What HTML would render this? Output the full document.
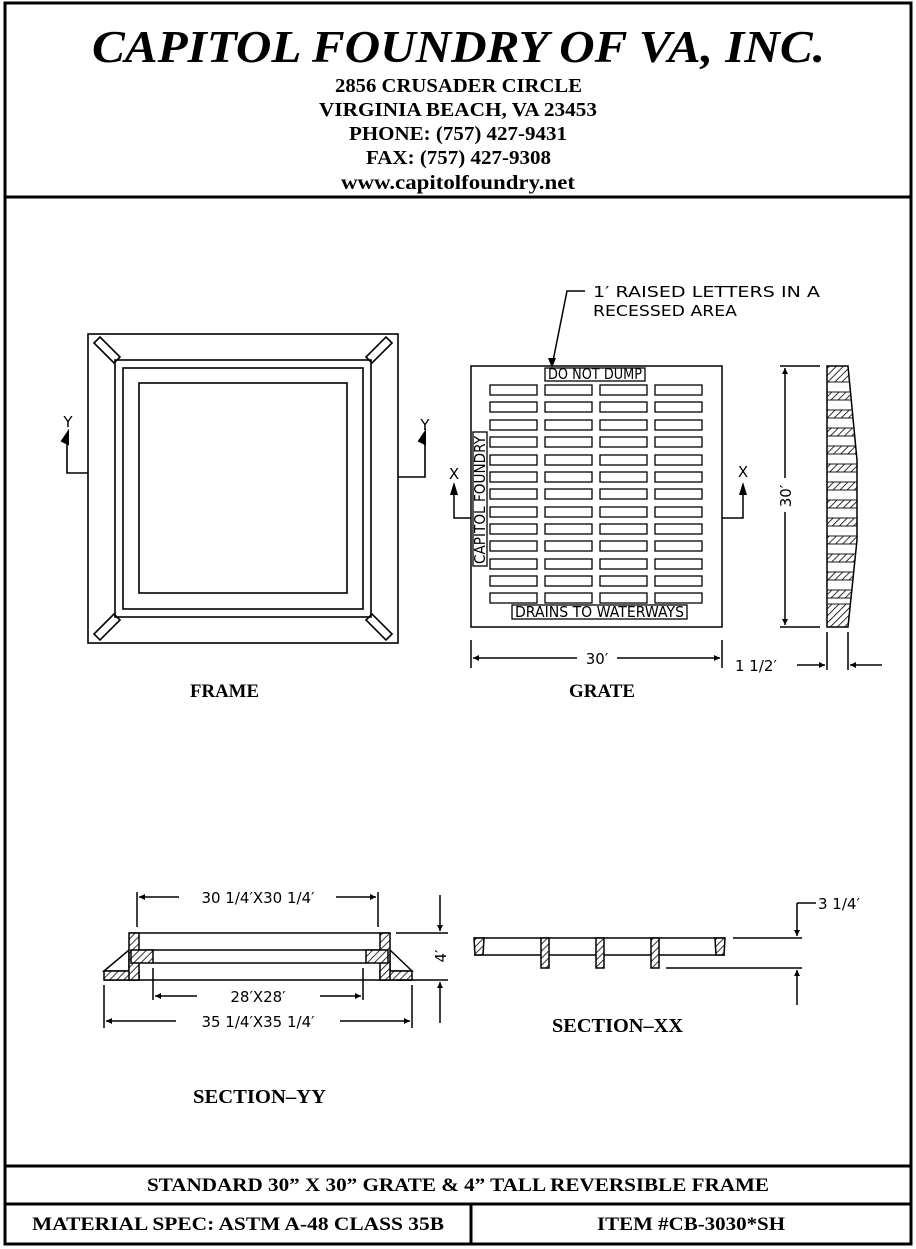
<!DOCTYPE html>
<html><head><meta charset="utf-8"><style>
html,body{margin:0;padding:0;background:#fff;}
svg{display:block;}
.t{font-family:"Liberation Serif",serif;font-weight:bold;fill:#000;}
.c{font-family:"DejaVu Sans","Liberation Sans",sans-serif;fill:#000;font-size:15px;}
</style></head><body>
<svg width="916" height="1249" viewBox="0 0 916 1249" xmlns="http://www.w3.org/2000/svg">
<defs>
<pattern id="h" width="5" height="5" patternUnits="userSpaceOnUse" patternTransform="rotate(45)">
<rect width="5" height="5" fill="#fff"/><line x1="0" y1="0" x2="0" y2="5" stroke="#000" stroke-width="1.6"/></pattern>
<marker id="a" viewBox="0 0 10 10" refX="10" refY="5" markerWidth="12" markerHeight="6" orient="auto-start-reverse" markerUnits="userSpaceOnUse"><path d="M0,0 L10,5 L0,10 z" fill="#000"/></marker>
<clipPath id="sc"><path d="M827,366 H848 L857,460 L857,540 L848,627 H827 Z"/></clipPath>
</defs>
<g fill="none" stroke="#000">
<rect x="5" y="3" width="906" height="1241" stroke-width="3"/>
<line x1="5" y1="197" x2="911" y2="197" stroke-width="3"/>
<line x1="5" y1="1166" x2="911" y2="1166" stroke-width="3"/>
<line x1="5" y1="1204" x2="911" y2="1204" stroke-width="3"/>
<line x1="471" y1="1204" x2="471" y2="1244" stroke-width="3"/>
</g>
<text class="t" x="92" y="62" font-size="46" font-style="italic" textLength="733" lengthAdjust="spacingAndGlyphs">CAPITOL FOUNDRY OF VA, INC.</text>
<g class="t" font-size="20">
<text x="335" y="92" textLength="247" lengthAdjust="spacingAndGlyphs">2856 CRUSADER CIRCLE</text>
<text x="319" y="116" textLength="278" lengthAdjust="spacingAndGlyphs">VIRGINIA BEACH, VA 23453</text>
<text x="349" y="140" textLength="218" lengthAdjust="spacingAndGlyphs">PHONE: (757) 427-9431</text>
<text x="366" y="164" textLength="185" lengthAdjust="spacingAndGlyphs">FAX: (757) 427-9308</text>
<text x="341" y="189" textLength="234" lengthAdjust="spacingAndGlyphs">www.capitolfoundry.net</text>
</g>
<text class="t" x="147" y="1191" font-size="19" textLength="622" lengthAdjust="spacingAndGlyphs">STANDARD 30” X 30” GRATE &amp; 4” TALL REVERSIBLE FRAME</text>
<text class="t" x="32" y="1230" font-size="19" textLength="412" lengthAdjust="spacingAndGlyphs">MATERIAL SPEC:  ASTM A-48 CLASS 35B</text>
<text class="t" x="597" y="1230" font-size="19" textLength="188" lengthAdjust="spacingAndGlyphs">ITEM #CB-3030*SH</text>

<!-- FRAME -->
<g fill="none" stroke="#000" stroke-width="1.6">
<rect x="88" y="334" width="310" height="309"/>
<rect x="115" y="360" width="256" height="257"/>
<rect x="123" y="368" width="240" height="241"/>
<rect x="139" y="383" width="208" height="210"/>
<path d="M94,343 L100,337 L120,357 L114,363 Z M392,343 L386,337 L366,357 L372,363 Z M94,634 L100,640 L120,620 L114,614 Z M392,634 L386,640 L366,620 L372,614 Z"/>
<path d="M88,473 H67 V440 M398,477 H425 V440"/>
</g>
<path d="M62,441 L68,432 L68,444 Z M419,441 L425,432 L425,444 Z" fill="#000" stroke="#000" stroke-width="2"/>
<text class="c" x="68" y="427" text-anchor="middle">Y</text>
<text class="c" x="425" y="430" text-anchor="middle">Y</text>
<text class="t" x="190" y="697" font-size="19" textLength="69" lengthAdjust="spacingAndGlyphs">FRAME</text>

<!-- GRATE -->
<rect x="471" y="366" width="251" height="261" fill="none" stroke="#000" stroke-width="1.5"/>
<g fill="none" stroke="#000" stroke-width="1.3">
<rect x="490" y="385" width="47" height="10"/><rect x="545" y="385" width="47" height="10"/><rect x="600" y="385" width="47" height="10"/><rect x="655" y="385" width="47" height="10"/>
<rect x="490" y="402" width="47" height="10"/><rect x="545" y="402" width="47" height="10"/><rect x="600" y="402" width="47" height="10"/><rect x="655" y="402" width="47" height="10"/>
<rect x="490" y="420" width="47" height="10"/><rect x="545" y="420" width="47" height="10"/><rect x="600" y="420" width="47" height="10"/><rect x="655" y="420" width="47" height="10"/>
<rect x="490" y="437" width="47" height="10"/><rect x="545" y="437" width="47" height="10"/><rect x="600" y="437" width="47" height="10"/><rect x="655" y="437" width="47" height="10"/>
<rect x="490" y="455" width="47" height="10"/><rect x="545" y="455" width="47" height="10"/><rect x="600" y="455" width="47" height="10"/><rect x="655" y="455" width="47" height="10"/>
<rect x="490" y="472" width="47" height="10"/><rect x="545" y="472" width="47" height="10"/><rect x="600" y="472" width="47" height="10"/><rect x="655" y="472" width="47" height="10"/>
<rect x="490" y="489" width="47" height="10"/><rect x="545" y="489" width="47" height="10"/><rect x="600" y="489" width="47" height="10"/><rect x="655" y="489" width="47" height="10"/>
<rect x="490" y="507" width="47" height="10"/><rect x="545" y="507" width="47" height="10"/><rect x="600" y="507" width="47" height="10"/><rect x="655" y="507" width="47" height="10"/>
<rect x="490" y="524" width="47" height="10"/><rect x="545" y="524" width="47" height="10"/><rect x="600" y="524" width="47" height="10"/><rect x="655" y="524" width="47" height="10"/>
<rect x="490" y="541" width="47" height="10"/><rect x="545" y="541" width="47" height="10"/><rect x="600" y="541" width="47" height="10"/><rect x="655" y="541" width="47" height="10"/>
<rect x="490" y="559" width="47" height="10"/><rect x="545" y="559" width="47" height="10"/><rect x="600" y="559" width="47" height="10"/><rect x="655" y="559" width="47" height="10"/>
<rect x="490" y="576" width="47" height="10"/><rect x="545" y="576" width="47" height="10"/><rect x="600" y="576" width="47" height="10"/><rect x="655" y="576" width="47" height="10"/>
<rect x="490" y="593" width="47" height="10"/><rect x="545" y="593" width="47" height="10"/><rect x="600" y="593" width="47" height="10"/><rect x="655" y="593" width="47" height="10"/>
</g>
<g fill="#fff" stroke="#000" stroke-width="1.3">
<rect x="545" y="368" width="100" height="13"/>
<rect x="512" y="605" width="175" height="14"/>
<rect x="473" y="432" width="14" height="134"/>
</g>
<g class="c" font-size="12">
<text x="548" y="379" textLength="94" lengthAdjust="spacingAndGlyphs">DO NOT DUMP</text>
<text x="515" y="617" textLength="169" lengthAdjust="spacingAndGlyphs">DRAINS TO WATERWAYS</text>
<text transform="translate(485,564) rotate(-90)" textLength="128" lengthAdjust="spacingAndGlyphs">CAPITOL FOUNDRY</text>
</g>
<g fill="none" stroke="#000" stroke-width="1.5">
<path d="M552,366 L567,291 H585"/>
<path d="M471,518 H454 V490 M722,518 H743 V490"/>
<path d="M471,640 V668 M722,640 V668"/>
<line x1="473" y1="658" x2="577" y2="658" marker-start="url(#a)"/>
<line x1="617" y1="658" x2="720" y2="658" marker-end="url(#a)"/>
</g>
<path d="M450,495 L454,482 L458,495 Z M739,495 L743,482 L747,495 Z M548,358 L552,368 L556,358 Z" fill="#000"/>
<text class="c" x="454" y="479" text-anchor="middle">X</text>
<text class="c" x="743" y="477" text-anchor="middle">X</text>
<text class="c" x="593" y="297" textLength="227" lengthAdjust="spacingAndGlyphs">1′ RAISED LETTERS IN A</text>
<text class="c" x="593" y="316" textLength="144" lengthAdjust="spacingAndGlyphs">RECESSED AREA</text>
<text class="c" x="597" y="664" text-anchor="middle">30′</text>
<text class="t" x="569" y="697" font-size="19" textLength="66" lengthAdjust="spacingAndGlyphs">GRATE</text>

<!-- side view -->
<path d="M827,366 H848 L857,460 L857,540 L848,627 H827 Z" fill="url(#h)" stroke="none"/>
<g fill="#fff" stroke="#000" stroke-width="0.9" clip-path="url(#sc)">
<rect x="827" y="382" width="40" height="10"/><rect x="827" y="400" width="40" height="10"/><rect x="827" y="418" width="40" height="10"/>
<rect x="827" y="436" width="40" height="10"/><rect x="827" y="454" width="40" height="10"/><rect x="827" y="472" width="40" height="10"/>
<rect x="827" y="490" width="40" height="10"/><rect x="827" y="508" width="40" height="10"/><rect x="827" y="526" width="40" height="10"/>
<rect x="827" y="544" width="40" height="10"/><rect x="827" y="562" width="40" height="10"/><rect x="827" y="580" width="40" height="10"/>
<rect x="827" y="598" width="40" height="6"/>
</g>
<path d="M827,366 H848 L857,460 L857,540 L848,627 H827 Z" fill="none" stroke="#000" stroke-width="1.5"/>
<g fill="none" stroke="#000" stroke-width="1.5">
<path d="M780,366 H820 M780,627 H820"/>
<line x1="785" y1="478" x2="785" y2="368" marker-end="url(#a)"/>
<line x1="785" y1="512" x2="785" y2="625" marker-end="url(#a)"/>
<path d="M827,632 V670 M848,632 V670"/>
<line x1="797" y1="665" x2="825" y2="665" marker-end="url(#a)"/>
<line x1="882" y1="665" x2="850" y2="665" marker-end="url(#a)"/>
</g>
<text class="c" transform="translate(791,496) rotate(-90)" text-anchor="middle">30′</text>
<text class="c" x="735" y="671">1 1/2′</text>

<!-- SECTION YY -->
<g stroke="#000" stroke-width="1.5">
<path d="M129,933 H390 M129,950 H390 M153,963 H366 M104,980 H412" fill="none"/>
<path d="M129,950 L104,971 H129 Z M390,950 L412,971 H390 Z" fill="#fff"/>
<rect x="104" y="971" width="35" height="9" fill="url(#h)"/>
<rect x="380" y="971" width="32" height="9" fill="url(#h)"/>
<rect x="129" y="933" width="10" height="47" fill="url(#h)"/>
<rect x="380" y="933" width="10" height="47" fill="url(#h)"/>
<rect x="131" y="950" width="22" height="13" fill="url(#h)"/>
<rect x="366" y="950" width="22" height="13" fill="url(#h)"/>
<g fill="none">
<path d="M137,927 V892 M378,927 V892 M153,968 V1000 M363,968 V1000 M104,985 V1028 M412,985 V1028"/>
<path d="M396,933 H448 M396,980 H448"/>
<line x1="179" y1="897" x2="139" y2="897" marker-end="url(#a)"/>
<line x1="336" y1="897" x2="376" y2="897" marker-end="url(#a)"/>
<line x1="197" y1="996" x2="155" y2="996" marker-end="url(#a)"/>
<line x1="320" y1="996" x2="361" y2="996" marker-end="url(#a)"/>
<line x1="176" y1="1021" x2="106" y2="1021" marker-end="url(#a)"/>
<line x1="340" y1="1021" x2="410" y2="1021" marker-end="url(#a)"/>
<line x1="440" y1="895" x2="440" y2="931" marker-end="url(#a)"/>
<line x1="440" y1="1023" x2="440" y2="982" marker-end="url(#a)"/>
</g>
</g>
<text class="c" x="258" y="903" text-anchor="middle">30 1/4′X30 1/4′</text>
<text class="c" x="258" y="1002" text-anchor="middle">28′X28′</text>
<text class="c" x="258" y="1027" text-anchor="middle">35 1/4′X35 1/4′</text>
<text class="c" transform="translate(446,956) rotate(-90)" text-anchor="middle">4′</text>
<text class="t" x="193" y="1103" font-size="20" textLength="133" lengthAdjust="spacingAndGlyphs">SECTION–YY</text>

<!-- SECTION XX -->
<g stroke="#000" stroke-width="1.5">
<path d="M474,938 H725 M474,955 H725" fill="none"/>
<path d="M474,938 H484 L483,955 H475 Z" fill="url(#h)"/>
<path d="M715,938 H725 L724,955 H716 Z" fill="url(#h)"/>
<rect x="541" y="938" width="8" height="30" fill="url(#h)"/>
<rect x="596" y="938" width="8" height="30" fill="url(#h)"/>
<rect x="651" y="938" width="8" height="30" fill="url(#h)"/>
<g fill="none">
<path d="M733,938 H802 M666,968 H802 M816,903 H797"/>
<line x1="797" y1="903" x2="797" y2="936" marker-end="url(#a)"/>
<line x1="797" y1="1005" x2="797" y2="970" marker-end="url(#a)"/>
</g>
</g>
<text class="c" x="818" y="909">3 1/4′</text>
<text class="t" x="552" y="1032" font-size="20" textLength="131" lengthAdjust="spacingAndGlyphs">SECTION–XX</text>
</svg>
</body></html>
